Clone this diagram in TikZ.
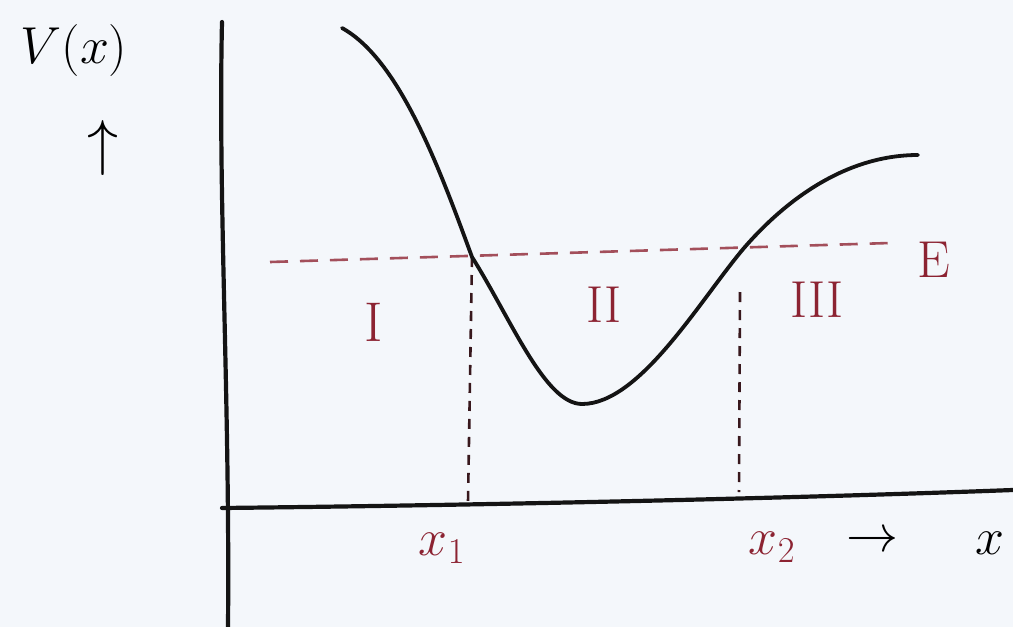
\RequirePackage{fix-cm}
\documentclass[tikz,border=0pt]{standalone}
\usepackage{fontspec}
\usetikzlibrary{arrows.meta}
\definecolor{ink}{RGB}{20,20,20}
\definecolor{redink}{RGB}{140,35,50}
\definecolor{paper}{RGB}{244,247,251}
\begin{document}
\begin{tikzpicture}[x=1pt,y=-1pt,
  axis/.style={draw=ink,line width=4.2pt,line cap=round},
  curve/.style={draw=ink,line width=3.8pt,line cap=round},
  eline/.style={draw=redink!80,line width=2.6pt,dash pattern=on 18pt off 12pt},
  vdash/.style={draw=ink!70!redink,line width=2.6pt,dash pattern=on 10pt off 8pt},
  lbl/.style={font=\fontsize{52}{56}\selectfont,inner sep=0pt},
  rlbl/.style={lbl,text=redink}]
\fill[paper] (0,0) rectangle (1013,627);
\useasboundingbox (0,0) rectangle (1013,627);
% axes
\coordinate (ytop) at (222,22);
\coordinate (ybot) at (228,627);
\coordinate (xleft) at (222,508);
\coordinate (xright) at (1013,490);
\draw[axis] (ytop) .. controls (218,200) and (230,400) .. (ybot);
\draw[axis] (xleft) .. controls (500,505) and (800,498) .. (xright);
% energy line
\coordinate (eL) at (270,262);
\coordinate (eR) at (890,243);
\draw[eline] (eL) -- (eR);
\node[rlbl] (E) at (934,260) {E};
% turning points
\coordinate (t1) at (472,257);
\coordinate (t2) at (744,248);
\coordinate (b1) at (468,502);
\coordinate (b2) at (739,492);
\coordinate (t2d) at (740,292);
\draw[vdash] (t1) -- (b1);
\draw[vdash] (t2d) -- (b2);
% potential curve
\coordinate (c0) at (342,28);
\coordinate (cmin) at (582,404);
\coordinate (c5) at (918,155);
\draw[curve] (c0) .. controls (400,60) and (440,170) .. (t1)
  .. controls (511,319) and (545,404) .. (cmin)
  .. controls (640,404) and (700,300) .. (t2)
  .. controls (790,195) and (850,155) .. (c5);
% labels
\node[lbl] (V) at (74,50) {$V(x)$};
\node[lbl,font=\fontsize{62}{66}\selectfont] (up) at (103,148) {$\uparrow$};
\node[rlbl,font=\fontsize{56}{60}\selectfont] (r1) at (374,322) {I};
\node[rlbl] (r2) at (604,305) {II};
\node[rlbl] (r3) at (817,300) {III};
\node[rlbl] (x1) at (442,548) {$x_1$};
\node[rlbl] (x2) at (772,547) {$x_2$};
\node[lbl] (arr) at (872,542) {$\rightarrow$};
\node[lbl] (x) at (990,543) {$x$};
\end{tikzpicture}
\end{document}
